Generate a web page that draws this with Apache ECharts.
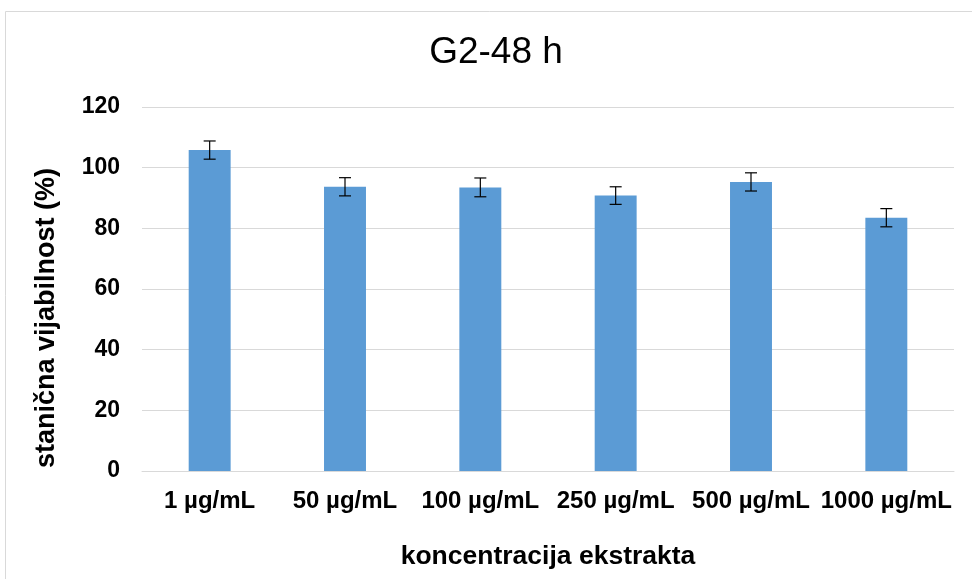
<!DOCTYPE html>
<html><head><meta charset="utf-8">
<script src="https://cdn.jsdelivr.net/npm/echarts@6/dist/echarts.min.js"></script>
<style>html,body{margin:0;padding:0;background:#fff}#c{width:972px;height:579px}</style>
</head><body><div id="c"></div>
<script>
var categories = ['1 µg/mL','50 µg/mL','100 µg/mL','250 µg/mL','500 µg/mL','1000 µg/mL'];
var values = [105.8, 93.7, 93.5, 90.8, 95.3, 83.5];
var errors = [3.0, 3.0, 3.1, 2.9, 3.0, 3.0];
var yTicks = [0, 20, 40, 60, 80, 100, 120];
var titleText = 'G2-48 h';
var xName = 'koncentracija ekstrakta';
var yName = 'stanična vijabilnost (%)';

var chart = echarts.init(document.getElementById('c'));
var errData = values.map(function(v, i){ return [i, v - errors[i], v + errors[i]]; });
var font = 'Liberation Sans, Arial, sans-serif';
chart.setOption({
  animation: false,
  graphic: [
    { type: 'rect', shape: { x: 5.5, y: 11.5, width: 1000, height: 1000 }, style: { fill: 'none', stroke: '#d9d9d9', lineWidth: 1 }, silent: true },
    { type: 'text', x: 496, y: 53, silent: true,
      style: { text: titleText, fontFamily: font, fontSize: 37, fontWeight: 'normal', fill: '#000', align: 'center', verticalAlign: 'middle' } },
    { type: 'text', x: 47, y: 318, rotation: Math.PI / 2, silent: true,
      style: { text: yName, fontFamily: font, fontSize: 27, fontWeight: 'bold', fill: '#000', align: 'center', verticalAlign: 'middle' } }
  ],
  grid: { left: 142, right: 18, top: 107, bottom: 108 },
  xAxis: {
    type: 'category', data: categories,
    axisLine: { lineStyle: { color: '#d9d9d9' } }, axisTick: { show: false },
    axisLabel: { fontFamily: font, fontSize: 24, fontWeight: 'bold', color: '#000', margin: 18, interval: 0 },
    name: xName, nameLocation: 'middle', nameGap: 72,
    nameTextStyle: { fontFamily: font, fontSize: 26.5, fontWeight: 'bold', color: '#000' }
  },
  yAxis: {
    type: 'value', min: yTicks[0], max: yTicks[yTicks.length-1], interval: 20,
    axisLine: { show: false }, axisTick: { show: false },
    splitLine: { lineStyle: { color: '#d9d9d9', width: 1 } },
    axisLabel: { fontFamily: font, fontSize: 23, fontWeight: 'bold', color: '#000', margin: 22 }
  },
  series: [
    { type: 'bar', data: values, barWidth: '31%', itemStyle: { color: '#5B9BD5' } },
    { type: 'custom', data: errData, z: 10,
      renderItem: function(params, api){
        var x = api.value(0);
        var lo = api.coord([x, api.value(1)]);
        var hi = api.coord([x, api.value(2)]);
        var hw = 6;
        var st = { stroke: '#000', lineWidth: 1.2 };
        return { type: 'group', children: [
          { type: 'line', shape: { x1: hi[0], y1: hi[1], x2: lo[0], y2: lo[1] }, style: st },
          { type: 'line', shape: { x1: hi[0]-hw, y1: hi[1], x2: hi[0]+hw, y2: hi[1] }, style: st },
          { type: 'line', shape: { x1: lo[0]-hw, y1: lo[1], x2: lo[0]+hw, y2: lo[1] }, style: st }
        ]};
      }
    }
  ]
});
</script></body></html>
